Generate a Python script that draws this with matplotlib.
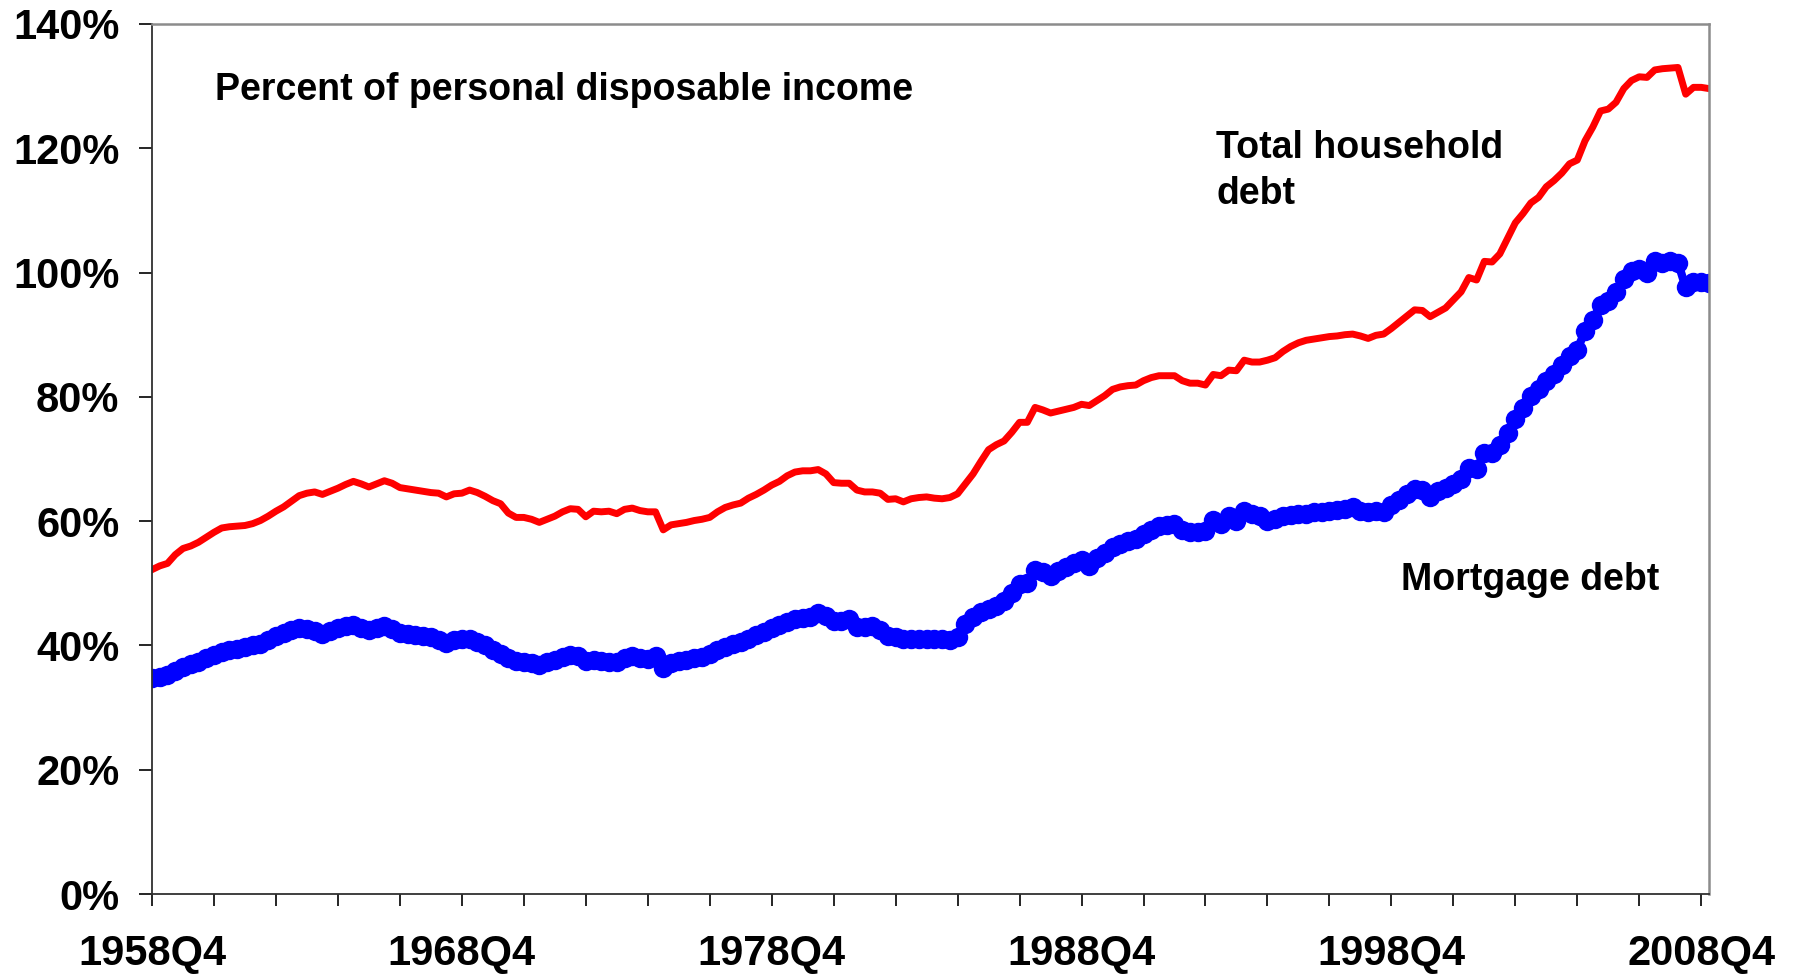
import matplotlib
matplotlib.use("Agg")
import matplotlib.pyplot as plt
import numpy as np

plt.rcParams["font.family"] = ["Liberation Sans", "DejaVu Sans"]
plt.rcParams["font.weight"] = "bold"

# quarterly series, 1958Q4 .. 2009Q1, percent of personal disposable income
total_debt = [
    52.2, 52.8, 53.2, 54.6, 55.6, 56.0, 56.6, 57.4, 58.2, 58.9,
    59.1, 59.2, 59.3, 59.6, 60.1, 60.8, 61.6, 62.3, 63.2, 64.1,
    64.5, 64.7, 64.3, 64.8, 65.3, 65.9, 66.4, 66.0, 65.5, 66.0,
    66.5, 66.1, 65.4, 65.2, 65.0, 64.8, 64.6, 64.5, 63.9, 64.4,
    64.5, 65.0, 64.6, 64.0, 63.3, 62.8, 61.3, 60.6, 60.6, 60.3,
    59.8, 60.3, 60.8, 61.5, 62.0, 61.9, 60.7, 61.6, 61.5, 61.6,
    61.2, 61.9, 62.1, 61.7, 61.5, 61.5, 58.6, 59.4, 59.6, 59.8,
    60.1, 60.3, 60.6, 61.5, 62.2, 62.6, 62.9, 63.7, 64.3, 65.0,
    65.8, 66.4, 67.3, 67.9, 68.1, 68.1, 68.3, 67.6, 66.2, 66.1,
    66.1, 65.0, 64.7, 64.7, 64.5, 63.5, 63.6, 63.1, 63.6, 63.8,
    63.9, 63.7, 63.6, 63.8, 64.4, 66.0, 67.6, 69.6, 71.5, 72.3,
    72.9, 74.3, 75.9, 75.9, 78.3, 77.9, 77.4, 77.7, 78.0, 78.3,
    78.8, 78.6, 79.4, 80.2, 81.2, 81.6, 81.8, 81.9, 82.6, 83.1,
    83.4, 83.4, 83.4, 82.6, 82.2, 82.2, 81.9, 83.6, 83.4, 84.3,
    84.2, 85.9, 85.6, 85.6, 85.9, 86.3, 87.3, 88.1, 88.7, 89.1,
    89.3, 89.5, 89.7, 89.8, 90.0, 90.1, 89.8, 89.4, 89.9, 90.1,
    91.0, 92.0, 93.0, 94.0, 93.9, 92.9, 93.6, 94.3, 95.6, 96.9,
    99.2, 98.8, 101.8, 101.7, 103.0, 105.5, 108.0, 109.5, 111.2, 112.1,
    113.8, 114.8, 116.0, 117.5, 118.1, 121.2, 123.4, 126.0, 126.3, 127.4,
    129.6, 130.9, 131.5, 131.4, 132.6, 132.8, 132.9, 133.0, 128.7, 129.8,
    129.8, 129.6,
]

mortgage_debt = [
    34.8, 35.0, 35.2, 35.9, 36.5, 37.0, 37.4, 37.9, 38.5, 39.0,
    39.2, 39.5, 39.8, 40.0, 40.2, 40.8, 41.5, 42.0, 42.5, 42.8,
    42.7, 42.3, 41.9, 42.4, 42.8, 43.1, 43.3, 42.8, 42.5, 42.8,
    43.1, 42.6, 42.0, 41.8, 41.6, 41.5, 41.4, 40.9, 40.4, 40.8,
    41.0, 41.0, 40.6, 40.0, 39.3, 38.6, 37.9, 37.5, 37.4, 37.2,
    36.9, 37.3, 37.7, 38.2, 38.5, 38.3, 37.5, 37.6, 37.5, 37.4,
    37.4, 38.0, 38.3, 38.0, 37.8, 38.3, 36.4, 37.2, 37.5, 37.7,
    37.9, 38.2, 38.6, 39.3, 39.8, 40.2, 40.6, 41.1, 41.6, 42.2,
    42.8, 43.3, 43.8, 44.2, 44.4, 44.6, 45.2, 44.7, 43.9, 44.0,
    44.3, 42.9, 43.0, 43.1, 42.5, 41.5, 41.4, 41.0, 41.1, 41.1,
    41.1, 41.0, 41.0, 40.9, 41.3, 43.4, 44.5, 45.4, 45.9, 46.4,
    47.2, 48.4, 49.9, 50.0, 52.2, 51.8, 51.2, 51.9, 52.6, 53.2,
    53.7, 52.8, 54.0, 54.8, 55.8, 56.4, 56.8, 57.1, 57.9, 58.6,
    59.2, 59.4, 59.5, 58.6, 58.3, 58.3, 58.4, 60.2, 59.5, 60.8,
    60.0, 61.7, 61.2, 60.9, 60.1, 60.3, 60.8, 61.0, 61.1, 61.2,
    61.4, 61.5, 61.7, 61.8, 62.0, 62.3, 61.6, 61.5, 61.6, 61.5,
    62.6, 63.4, 64.3, 65.2, 65.0, 63.9, 64.9, 65.3, 66.0, 66.8,
    68.6, 68.4, 71.0, 70.9, 72.2, 74.2, 76.5, 78.2, 80.1, 81.2,
    82.5, 83.6, 85.1, 86.6, 87.6, 90.6, 92.4, 94.8, 95.4, 96.9,
    99.0, 100.2, 100.6, 100.0, 101.8, 101.5, 101.8, 101.6, 97.6, 98.4,
    98.4, 98.3,
]

x_labels = ["1958Q4", "1968Q4", "1978Q4", "1988Q4", "1998Q4", "2008Q4"]
y_ticks = [0, 20, 40, 60, 80, 100, 120, 140]

x = np.arange(len(total_debt))

fig = plt.figure(figsize=(18.01, 9.74), dpi=100)
ax = fig.add_axes([0.0844, 0.0821, 0.8645, 0.8933])

ax.plot(x, total_debt, color="#ff0000", linewidth=5, solid_joinstyle="round")
ax.plot(x, mortgage_debt, color="#0000ff", linewidth=6, marker="o",
        markersize=14, markeredgewidth=0, solid_joinstyle="round")

ax.set_xlim(0, len(total_debt) - 1)
ax.set_ylim(0, 140)

ax.set_yticks(y_ticks)
ax.set_yticklabels([f"{v}%" for v in y_ticks])
xt = list(range(0, len(total_debt), 8))
ax.set_xticks(xt)
ax.set_xticklabels([x_labels[i // 40] if i % 40 == 0 else "" for i in xt])

ax.tick_params(axis="y", direction="out", length=9.5, width=1.2, colors="black",
               labelsize=30, pad=14)
ax.tick_params(axis="x", direction="out", length=8.6, width=1.2, colors="black",
               labelsize=30, pad=20)

for side in ("left", "bottom"):
    ax.spines[side].set_color("#303030")
    ax.spines[side].set_linewidth(1.3)
for side in ("top", "right"):
    ax.spines[side].set_color("#8c8c8c")
    ax.spines[side].set_linewidth(1.8)

ax.text(8.1, 127.8, "Percent of personal disposable income", fontsize=27,
        fontweight="bold", va="baseline", ha="left")
ax.text(137.4, 118.4, "Total household", fontsize=27, fontweight="bold",
        va="baseline", ha="left")
ax.text(137.4, 111.0, "debt", fontsize=27, fontweight="bold",
        va="baseline", ha="left")
ax.text(161.3, 48.9, "Mortgage debt", fontsize=27, fontweight="bold",
        va="baseline", ha="left")

fig.savefig("out.png", dpi=100)
